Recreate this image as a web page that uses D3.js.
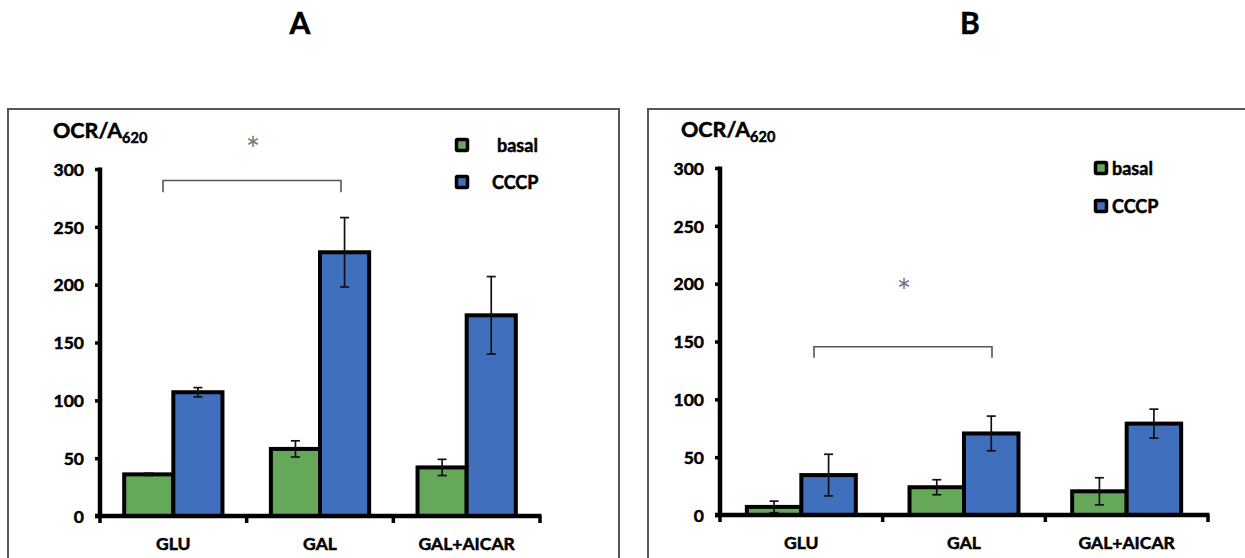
<!DOCTYPE html>
<html>
<head>
<meta charset="utf-8">
<script src="https://d3js.org/d3.v7.min.js"></script>
<style>
  html, body { margin: 0; padding: 0; background: #fff; }
  svg { display: block; }
  text { font-family: Lato, "Open Sans", sans-serif; }
  .heavy { stroke: #000; stroke-width: 0.5px; }
</style>
</head>
<body>
<svg id="chart" width="1245" height="558"></svg>
<script>
// ---- data ----
const categories = ["GLU", "GAL", "GAL+AICAR"];
const seriesNames = ["basal", "CCCP"];
const yTicks = [0, 50, 100, 150, 200, 250, 300];

const basalA = [36, 58, 42];
const basalErrA = [1, 7, 7];
const cccpA = [107, 228, 173.5];
const cccpErrA = [4, 30, 33.5];
const sigA = { level: 290, drop: 10 };

const basalB = [7, 24, 20.5];
const basalErrB = [5, 6.5, 11.7];
const cccpB = [34.5, 70.5, 79];
const cccpErrB = [18, 15, 12.5];
const sigB = { level: 145.5, drop: 9.5 };

const colors = { basal: "#65a85a", CCCP: "#3f6fbd" };

const svg = d3.select("#chart");

// Panel titles
svg.append("text").attr("x", 300).attr("y", 34).attr("text-anchor", "middle")
  .attr("font-size", 30).attr("font-weight", 700).attr("class", "heavy").text("A");
svg.append("text").attr("x", 970).attr("y", 34).attr("text-anchor", "middle")
  .attr("font-size", 30).attr("font-weight", 700).attr("class", "heavy").text("B");

function drawPanel(cfg) {
  const g = svg.append("g");
  // frame
  g.append("path")
    .attr("d", cfg.framePath)
    .attr("fill", "none").attr("stroke", "#555").attr("stroke-width", 2);

  const x = d3.scaleBand().domain(categories).range([cfg.x0, cfg.x1]).padding(0);
  const y = d3.scaleLinear().domain([0, 300]).range([cfg.y0, cfg.y300]);
  const groupW = x.bandwidth() * 0.67;
  const xs = d3.scaleBand().domain(seriesNames).range([0, groupW]).padding(0);

  const rows = [];
  categories.forEach((c, i) => {
    rows.push({ cat: c, s: "basal", v: cfg.basal[i], e: cfg.basalErr[i] });
    rows.push({ cat: c, s: "CCCP", v: cfg.cccp[i], e: cfg.cccpErr[i] });
  });
  const bx = d => x(d.cat) + (x.bandwidth() - groupW) / 2 + xs(d.s);

  // bars
  g.selectAll("rect.bar").data(rows).enter().append("rect")
    .attr("class", "bar")
    .attr("x", bx)
    .attr("y", d => y(d.v))
    .attr("width", xs.bandwidth())
    .attr("height", d => y(0) - y(d.v))
    .attr("fill", d => colors[d.s])
    .attr("stroke", "#000").attr("stroke-width", 4);

  // error bars
  const cap = 4.5;
  rows.forEach(d => {
    const cx = bx(d) + xs.bandwidth() / 2;
    const eg = g.append("g").attr("stroke", "#111").attr("stroke-width", 1.7);
    eg.append("line").attr("x1", cx).attr("x2", cx).attr("y1", y(d.v + d.e)).attr("y2", y(d.v - d.e));
    eg.append("line").attr("x1", cx - cap).attr("x2", cx + cap).attr("y1", y(d.v + d.e)).attr("y2", y(d.v + d.e));
    eg.append("line").attr("x1", cx - cap).attr("x2", cx + cap).attr("y1", y(d.v - d.e)).attr("y2", y(d.v - d.e));
  });

  // y axis
  const yAxis = d3.axisLeft(y).tickValues(yTicks).tickSize(5).tickPadding(11);
  const ya = g.append("g").attr("transform", `translate(${cfg.x0},0)`).call(yAxis);
  ya.select(".domain").remove();
  ya.append("line").attr("x1", 0).attr("x2", 0).attr("y1", cfg.y300 - 1.5).attr("y2", cfg.y0)
    .attr("stroke", "#000").attr("stroke-width", 4.5);
  ya.selectAll(".tick line").attr("stroke", "#000").attr("stroke-width", 3.5);
  ya.selectAll(".tick text").attr("font-size", 17.5).attr("font-weight", 700)
    .attr("font-family", "Lato, 'Open Sans', sans-serif").attr("fill", "#000")
    .attr("class", "heavy").attr("dy", "0.36em");

  // x axis
  const xa = g.append("g").attr("transform", `translate(0,${cfg.y0})`);
  xa.append("line").attr("x1", cfg.x0 - 5).attr("x2", cfg.x1 + 1.5)
    .attr("y1", 0).attr("y2", 0).attr("stroke", "#000").attr("stroke-width", 4.5);
  const bounds = categories.map(c => x(c)).concat([cfg.x1]);
  xa.selectAll("line.xt").data(bounds).enter().append("line")
    .attr("class", "xt")
    .attr("x1", d => d).attr("x2", d => d).attr("y1", 0).attr("y2", 7)
    .attr("stroke", "#000").attr("stroke-width", 3.5);
  xa.selectAll("text.xl").data(categories).enter().append("text")
    .attr("class", "xl heavy")
    .attr("x", d => x(d) + x.bandwidth() / 2).attr("y", 34)
    .attr("text-anchor", "middle").attr("font-size", 17.5).attr("font-weight", 700)
    .text(d => d);

  // y label OCR/A620
  const lab = g.append("text").attr("x", cfg.labX).attr("y", cfg.labY)
    .attr("font-size", 21.5).attr("font-weight", 700).attr("class", "heavy");
  lab.append("tspan").text("OCR/A");
  lab.append("tspan").attr("font-size", 14.5).attr("dy", 5).text("620");

  // significance bracket
  const bl = cfg.sig.bx0, br = cfg.sig.bx1;
  const ly = y(cfg.sig.level), ld = y(cfg.sig.level - cfg.sig.drop);
  g.append("path")
    .attr("d", `M${bl},${ld}V${ly}H${br}V${ld}`)
    .attr("fill", "none").attr("stroke", "#555").attr("stroke-width", 1.6);
  g.append("text").attr("x", cfg.sig.starX).attr("y", cfg.sig.starY)
    .attr("text-anchor", "middle").attr("font-size", 34).attr("fill", "#777")
    .attr("font-family", "'Liberation Sans', sans-serif").text("*");

  // legend
  seriesNames.forEach((s, i) => {
    const L = cfg.legend[i];
    g.append("rect").attr("x", L.sx - 5.5).attr("y", L.sy - 5.5).attr("width", 11).attr("height", 11)
      .attr("fill", colors[s]).attr("stroke", "#000").attr("stroke-width", 3.5).attr("rx", 1);
    g.append("text").attr("x", L.tx).attr("y", L.sy + 6.5).attr("font-size", 18)
      .attr("font-weight", 700).attr("class", "heavy").text(s);
  });
}

drawPanel({
  framePath: "M8,570V109H619V570",
  x0: 100, x1: 540, y0: 516, y300: 169,
  basal: basalA, basalErr: basalErrA, cccp: cccpA, cccpErr: cccpErrA,
  labX: 53, labY: 138,
  sig: { level: sigA.level, drop: sigA.drop, bx0: 163, bx1: 341, starX: 253, starY: 162 },
  legend: [{ sx: 462, sy: 145, tx: 497 }, { sx: 462, sy: 182, tx: 492 }]
});

drawPanel({
  framePath: "M648,570V109H1250",
  x0: 720, x1: 1208, y0: 515, y300: 168,
  basal: basalB, basalErr: basalErrB, cccp: cccpB, cccpErr: cccpErrB,
  labX: 681, labY: 137,
  sig: { level: sigB.level, drop: sigB.drop, bx0: 814, bx1: 992, starX: 904, starY: 304 },
  legend: [{ sx: 1101, sy: 168, tx: 1112 }, { sx: 1101, sy: 206, tx: 1112 }]
});
</script>
</body>
</html>
